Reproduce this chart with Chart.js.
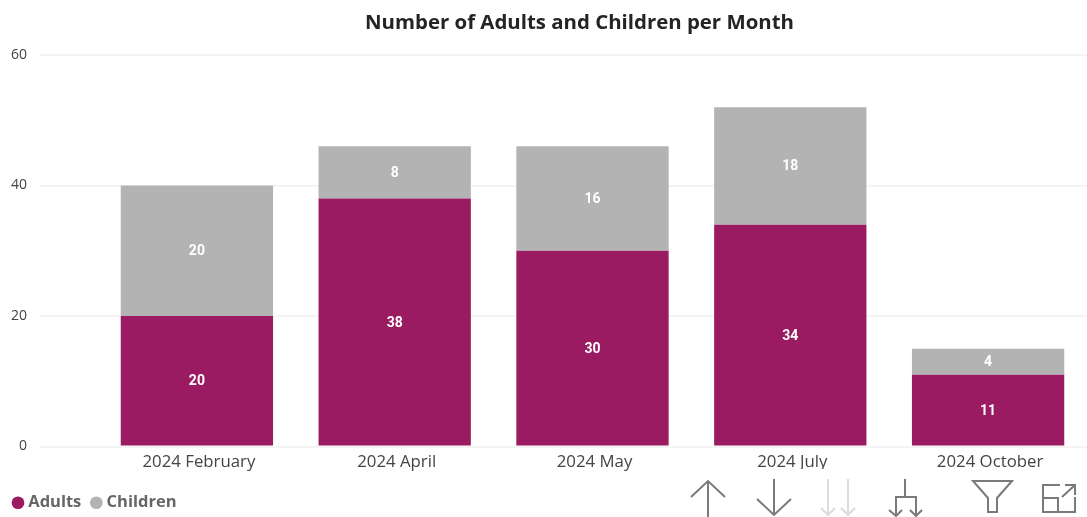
<!DOCTYPE html>
<html>
<head>
<meta charset="utf-8">
<title>Number of Adults and Children per Month</title>
<script src="https://cdn.jsdelivr.net/npm/chart.js@4"></script>
<style>
  body { margin: 0; background: #fff; }
  #wrap { position: relative; width: 1087px; height: 517px; overflow: hidden; }
  #title {
    position: absolute; left: 0; top: 7px; width: 1159px; text-align: center;
    font: bold 20.4px "Open Sans", sans-serif; color: #252423;
  }
  #icons { position: absolute; left: 690px; top: 469px; background: #fff; }
</style>
</head>
<body>
<div id="wrap">
  <canvas id="myChart" width="1087" height="517"></canvas>
  <div id="title">Number of Adults and Children per Month</div>
  <svg id="icons" width="397" height="48" viewBox="690 469 397 48" fill="none" stroke="#7a7a7a" stroke-width="2">
    <path d="M708 517V481M691 497L708 481L725 497"/>
    <path d="M774 479V515M757 499L774 515L791 499"/>
    <path stroke="#dcdcdc" d="M828 479V515M821 508L828 515L835 508M848 479V515M841 508L848 515L855 508"/>
    <path d="M905 479V497M896 516V497H916V516M889 510L896 516L902 510M910 510L916 516L922 510"/>
    <path d="M973 481H1012L997 498V512H988V498Z"/>
    <path d="M1060 485H1043V512H1075V497M1043 498H1058V512M1062 497L1075 485M1065 485H1075V495"/>
  </svg>
</div>
<script>
const months = ["2024 February", "2024 April", "2024 May", "2024 July", "2024 October"];
const adults = [20, 38, 30, 34, 11];
const children = [20, 8, 16, 18, 4];
const yTicks = [0, 20, 40, 60];

// white numbers in the middle of each bar segment
const barLabels = {
  id: "barLabels",
  afterDatasetsDraw(chart) {
    const c = chart.ctx;
    c.save();
    c.fillStyle = "#fff";
    c.font = 'bold 14px Roboto, sans-serif';
    c.textAlign = "center";
    c.textBaseline = "middle";
    chart.data.datasets.forEach((ds, i) => {
      chart.getDatasetMeta(i).data.forEach((bar, j) => {
        c.fillText(ds.data[j], bar.x, (bar.y + bar.base) / 2 + 1);
      });
    });
    c.restore();
  },
};

new Chart(document.getElementById("myChart").getContext("2d"), {
  type: "bar",
  data: {
    labels: months,
    datasets: [
      { label: "Adults", data: adults, backgroundColor: "#9b1b62" },
      { label: "Children", data: children, backgroundColor: "#b3b3b3" },
    ],
  },
  options: {
    responsive: false,
    animation: false,
    categoryPercentage: 1,
    barPercentage: 0.77,
    layout: { padding: { top: 55, left: 3, right: 0, bottom: -4 } },
    scales: {
      x: {
        stacked: true,
        grid: { display: false },
        border: { display: false },
        ticks: { color: "#444", font: { family: "Open Sans", size: 16.8 }, padding: -2, labelOffset: 2, maxRotation: 0 },
        afterFit(scale) { scale.height = 35; },
      },
      y: {
        stacked: true,
        min: 0,
        max: 60,
        afterBuildTicks(scale) { scale.ticks = yTicks.map((v) => ({ value: v })); },
        grid: { color: "#f4f4f4", lineWidth: 2, tickLength: 58 },
        border: { display: false },
        ticks: { color: "#444", font: { family: "Open Sans", size: 14 }, padding: 13 },
        afterFit(scale) { scale.width = 95; },
      },
    },
    plugins: {
      title: { display: false },
      tooltip: { enabled: false },
      legend: {
        position: "bottom",
        align: "start",
        labels: {
          usePointStyle: true,
          pointStyle: "circle",
          boxWidth: 4,
          boxHeight: 9,
          padding: 13,
          color: "#666",
          font: { family: "Open Sans", size: 16.5, weight: "bold" },
        },
      },
    },
  },
  plugins: [barLabels],
});
</script>
</body>
</html>
